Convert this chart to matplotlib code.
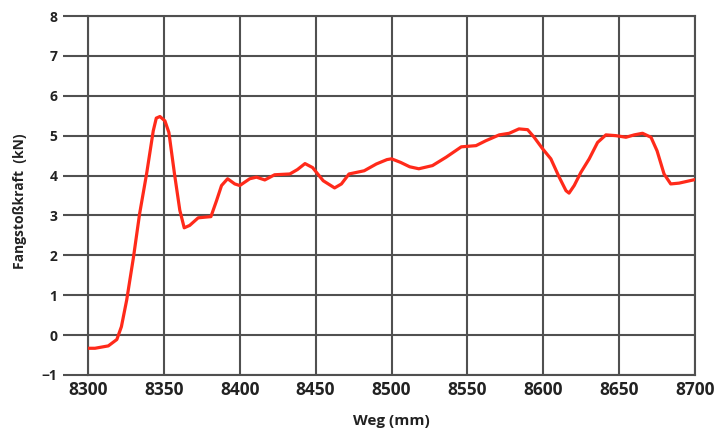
import matplotlib
matplotlib.use("Agg")
import matplotlib.pyplot as plt

plt.rcParams['font.family'] = ['Open Sans', 'DejaVu Sans']

# Weg (mm) / Fangstoßkraft (kN)
weg = [8300, 8304.6, 8313.4, 8319, 8322, 8325.5, 8330, 8334, 8338.6, 8343,
       8345, 8347.4, 8350.7, 8353.3, 8357, 8360.5, 8363.4, 8367, 8372.6, 8378,
       8381, 8384.7, 8388, 8392, 8396.7, 8400, 8406.6, 8411, 8416.5, 8423,
       8433, 8438, 8443, 8448, 8455, 8462.5, 8467, 8472, 8482, 8490,
       8497, 8500, 8506, 8512, 8518, 8527, 8536, 8546, 8555.7, 8562,
       8571, 8577.6, 8584, 8589.7, 8594, 8599.6, 8605, 8610.5, 8615, 8617,
       8620.4, 8624.8, 8630.3, 8635.8, 8641.3, 8648, 8654.5, 8660, 8665.4, 8671,
       8675, 8679.6, 8684, 8689.5, 8700]
kraft = [-0.33, -0.33, -0.27, -0.11, 0.21, 0.88, 1.96, 3.04, 4.04, 5.12,
         5.44, 5.48, 5.37, 5.08, 4.04, 3.13, 2.69, 2.75, 2.94, 2.96,
         2.97, 3.37, 3.75, 3.92, 3.79, 3.75, 3.92, 3.96, 3.89, 4.02,
         4.04, 4.15, 4.3, 4.2, 3.87, 3.69, 3.79, 4.04, 4.12, 4.29,
         4.4, 4.42, 4.33, 4.22, 4.17, 4.25, 4.46, 4.72, 4.75, 4.87,
         5.02, 5.06, 5.17, 5.15, 4.96, 4.67, 4.42, 3.96, 3.62, 3.56,
         3.75, 4.08, 4.42, 4.83, 5.02, 5.0, 4.96, 5.02, 5.06, 4.96,
         4.62, 4.04, 3.79, 3.81, 3.9]

x_ticks = [8300, 8350, 8400, 8450, 8500, 8550, 8600, 8650, 8700]
y_ticks = [-1, 0, 1, 2, 3, 4, 5, 6, 7, 8]

grid_col = '#505050'

fig = plt.figure(figsize=(7.24, 4.33), dpi=100)
ax = fig.add_axes([88 / 724, 58 / 433, 607 / 724, 359 / 433])

ax.plot(weg, kraft, color='#ff2a1a', lw=2.3, solid_capstyle='round',
        solid_joinstyle='round', zorder=3)

ax.set_xlim(8300, 8700)
ax.set_ylim(-1, 8)
ax.set_xticks(x_ticks)
ax.set_yticks(y_ticks)
ax.grid(True, color=grid_col, lw=1.5)
for s in ax.spines.values():
    s.set_color(grid_col)
    s.set_linewidth(1.5)

ax.tick_params(axis='y', length=18, width=1.5, color=grid_col, pad=4,
               labelsize=10)
ax.tick_params(axis='x', length=0, pad=4, labelsize=12.5)
for lab in ax.get_xticklabels() + ax.get_yticklabels():
    lab.set_fontweight('bold')
    lab.set_color('#222222')

ax.set_xlabel('Weg (mm)', fontsize=11, fontweight='bold', color='#222222')
ax.set_ylabel('Fangstoßkraft  (kN)', fontsize=10, fontweight='bold',
              color='#222222')
ax.xaxis.set_label_coords(0.5, -0.11)
ax.yaxis.set_label_coords(-0.1, 0.483)

fig.savefig('out.png', dpi=100)
